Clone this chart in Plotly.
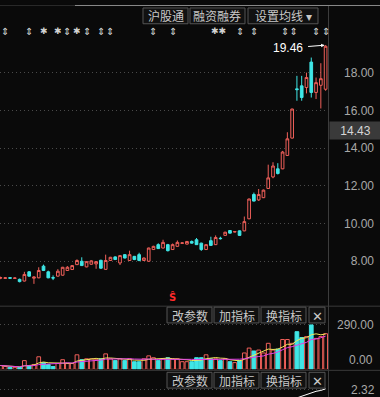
import plotly.graph_objects as go
import pandas as pd

W, H = 380, 397
BG = '#0A0A0A'
RED = '#F0605A'
CYAN = '#3FE6E6'
GRID = '#4A4A4A'
LBL = '#A8A8A8'
BTN_TXT = '#C8C8C8'

# ---------------- data ----------------
opens = [7.10, 7.09, 7.13, 7.09, 7.04, 6.95, 7.44, 7.10, 7.12, 7.74,
         7.44, 7.13, 7.21, 7.26, 7.51, 7.56, 7.82, 8.00, 7.70, 7.84,
         7.86, 8.05, 7.57, 8.04, 8.23, 7.91, 8.35, 8.04, 8.26, 8.35,
         8.04, 8.00, 8.62, 8.88, 8.70, 8.88, 8.62, 8.79, 8.95, 8.91,
         9.05, 9.14, 8.96, 8.62, 9.09, 8.88, 9.22, 9.37, 9.63, 9.55,
         9.61, 9.61, 10.25, 11.54, 11.25, 11.37, 11.86, 12.47, 12.90, 12.90,
         13.61, 14.53, 17.14, 17.30, 17.21, 18.56, 16.95, 17.33, 17.12]
closes = [7.13, 7.12, 7.10, 7.11, 6.92, 7.30, 7.21, 7.16, 7.51, 7.51,
          7.12, 7.11, 7.47, 7.68, 7.68, 7.77, 8.04, 7.77, 7.98, 8.02,
          7.98, 7.63, 8.04, 8.21, 8.09, 8.30, 8.17, 8.35, 8.09, 8.04,
          8.17, 8.70, 8.79, 8.67, 9.00, 8.56, 8.88, 9.00, 8.97, 9.05,
          8.96, 8.88, 8.62, 8.88, 8.84, 9.26, 9.20, 9.54, 9.49, 9.57,
          9.37, 10.10, 11.30, 11.19, 11.54, 11.77, 12.42, 13.05, 12.65, 13.79,
          14.49, 16.07, 17.10, 16.68, 17.74, 16.95, 17.47, 17.68, 19.40]
highs = [7.18, 7.16, 7.16, 7.14, 7.08, 7.44, 7.48, 7.20, 7.68, 7.82,
         7.50, 7.25, 7.58, 7.70, 7.74, 7.80, 8.10, 8.21, 8.00, 8.05,
         8.00, 8.08, 8.35, 8.23, 8.26, 8.32, 8.38, 8.56, 8.28, 8.45,
         8.20, 8.72, 8.82, 8.95, 9.14, 8.92, 8.94, 9.10, 9.00, 9.07,
         9.10, 9.23, 8.98, 8.90, 9.30, 9.37, 9.30, 9.56, 9.65, 9.60,
         9.63, 10.37, 11.32, 11.64, 11.83, 11.80, 13.12, 13.25, 13.20, 13.85,
         14.84, 16.09, 17.83, 17.83, 18.00, 18.80, 17.74, 18.50, 19.46]
lows = [7.05, 7.06, 7.07, 7.06, 6.88, 6.93, 7.19, 6.80, 7.10, 7.48,
        7.10, 7.00, 7.19, 7.24, 7.49, 7.54, 7.80, 7.75, 7.68, 7.82,
        7.60, 7.60, 7.55, 8.02, 8.07, 7.80, 8.15, 8.02, 8.06, 8.00,
        8.02, 7.98, 8.60, 8.65, 8.68, 8.52, 8.60, 8.77, 8.92, 8.89,
        8.94, 8.86, 8.55, 8.60, 8.82, 8.86, 9.15, 9.35, 9.47, 9.53,
        9.35, 9.59, 10.23, 11.17, 11.20, 11.35, 11.84, 12.40, 12.60, 12.88,
        13.59, 14.51, 16.51, 16.51, 16.90, 16.68, 16.60, 16.10, 17.04]
volumes = [25, 19, 13, 13, 13, 57, 25, 32, 82, 44,
           32, 19, 38, 63, 38, 38, 95, 63, 69, 69,
           63, 69, 101, 69, 57, 69, 57, 69, 50, 50,
           69, 88, 76, 57, 69, 76, 69, 69, 50, 50,
           50, 76, 76, 95, 69, 69, 57, 69, 50, 44,
           57, 107, 139, 120, 126, 107, 170, 126, 132, 195,
           195, 170, 246, 208, 214, 290, 202, 214, 233]
indicator_tail = [1.85, 1.95, 2.05, 2.15, 2.22, 2.27, 2.36]
indicator = [None] * (len(closes) - len(indicator_tail)) + indicator_tail

price_ticks = [8, 10, 12, 14, 16, 18]
price_ticktext = ['\u20078.00', '10.00', '12.00', '14.00', '16.00', '18.00']
vol_ticks = [290]
vol_ticktext = ['290.00']
ind_ticks = [2.32]
ind_ticktext = ['2.32']

# event markers: (candle index, glyph); adjacent events are merged into one label
event_idx = [1, 6, 9, 12, 14, 16, 18, 21, 23, 32, 36, 45.5, 50, 53, 60.5, 66, 68]
event_glyph = ['⇕', '⇕', '✱', '✱', '⇕', '✱', '⇕', '⇕', '⇕', '⇕', '⇕',
               '✱✱', '⇕', '⇕', '⇕⇕', '⇕', '⇕']
signal_idx = 36
high_value = 19.46
current_price = 14.43

top_buttons = ['沪股通', '融资融券', '设置均线 ▾']
panel_buttons = ['改参数', '加指标', '换指标', '✕']

# ---------------- geometry helpers ----------------
def px(x):
    return x / W

def py(y):
    return 1 - y / H

idx = list(range(len(closes)))
XR = 328 / W
XRANGE = [-0.1, 68.5]
up = [c >= o for o, c in zip(opens, closes)]

vol = pd.Series(volumes)
ma5 = vol.rolling(5, min_periods=1).mean()
ma10 = vol.rolling(10, min_periods=1).mean()

fig = go.Figure()
fig.add_trace(go.Candlestick(
    x=idx, open=opens, high=highs, low=lows, close=closes,
    increasing=dict(line=dict(color=RED, width=1), fillcolor=BG),
    decreasing=dict(line=dict(color=CYAN, width=1), fillcolor=CYAN),
    xaxis='x', yaxis='y', hoverinfo='skip'))
fig.add_trace(go.Bar(
    x=idx, y=volumes, width=0.78,
    marker=dict(color=[BG if u else CYAN for u in up],
                line=dict(color=[RED if u else CYAN for u in up], width=1)),
    xaxis='x2', yaxis='y2', hoverinfo='skip'))
fig.add_trace(go.Scatter(x=idx, y=ma5, mode='lines', line=dict(color='#F2E85A', width=1),
                         xaxis='x2', yaxis='y2', hoverinfo='skip'))
fig.add_trace(go.Scatter(x=idx, y=ma10, mode='lines', line=dict(color='#E040E8', width=1),
                         xaxis='x2', yaxis='y2', hoverinfo='skip'))
fig.add_trace(go.Scatter(x=idx, y=indicator, mode='lines', line=dict(color='#FFFFFF', width=1),
                         xaxis='x3', yaxis='y3', hoverinfo='skip'))

tickfont = dict(family='Liberation Sans, Arial, sans-serif', size=12, color=LBL)
yax_common = dict(side='right', showgrid=True, gridcolor=GRID, griddash='1px,3px', gridwidth=1,
                  zeroline=False, showline=False, ticks='', tickfont=tickfont, fixedrange=True)

fig.update_layout(
    width=W, height=H, margin=dict(l=0, r=0, t=0, b=0),
    paper_bgcolor=BG, plot_bgcolor=BG, showlegend=False, boxgap=0.2,
    xaxis=dict(domain=[0, XR], range=XRANGE, visible=False, anchor='y',
               rangeslider=dict(visible=False)),
    xaxis2=dict(domain=[0, XR], range=XRANGE, visible=False, anchor='y2'),
    xaxis3=dict(domain=[0, XR], range=XRANGE, visible=False, anchor='y3'),
    yaxis=dict(domain=[py(303), py(30)], range=[5.723, 20.016], anchor='x',
               tickvals=price_ticks, ticktext=price_ticktext, ticklabelstandoff=15, **yax_common),
    yaxis2=dict(domain=[py(369), py(322)], range=[0, 303], anchor='x2',
                tickvals=vol_ticks, ticktext=vol_ticktext, ticklabelstandoff=8, **yax_common),
    yaxis3=dict(domain=[0, py(388)], range=[1.9, 2.4], anchor='x3',
                tickvals=ind_ticks, ticktext=ind_ticktext, ticklabelstandoff=22, **yax_common),
)

shapes = []
annotations = []

# frame lines
shapes.append(dict(type='line', xref='paper', yref='paper', x0=px(328.5), x1=px(328.5), y0=0, y1=1,
                   line=dict(color='#3C3C3C', width=1)))
for yy in (305, 370):
    shapes.append(dict(type='line', xref='paper', yref='paper', x0=0, x1=1, y0=py(yy), y1=py(yy),
                       line=dict(color='#3A3A3A', width=1)))
shapes.append(dict(type='line', xref='paper', yref='paper', x0=0, x1=px(75), y0=py(0.5), y1=py(0.5),
                   line=dict(color='#2A2A2A', width=1)))
shapes.append(dict(type='line', xref='paper', yref='paper', x0=px(75), x1=px(380), y0=py(0.5), y1=py(0.5),
                   line=dict(color='#8A8A8A', width=1)))

btn_font = dict(family='Noto Sans CJK SC', size=12, color=BTN_TXT)

def button(label, x0, x1, y0, y1, size=12):
    shapes.append(dict(type='rect', xref='paper', yref='paper', x0=px(x0), x1=px(x1),
                       y0=py(y1), y1=py(y0), line=dict(color='#555555', width=1),
                       fillcolor='#111111', layer='above'))
    annotations.append(dict(xref='paper', yref='paper', x=px((x0 + x1) / 2), y=py((y0 + y1) / 2),
                            text=label, showarrow=False, xanchor='center', yanchor='middle',
                            font=dict(btn_font, size=size)))

for label, (x0, x1) in zip(top_buttons, [(143, 188), (190, 245), (248, 318)]):
    button(label, x0, x1, 3, 19)
for (r0, r1) in [(306, 322), (372, 388)]:
    for label, (x0, x1) in zip(panel_buttons, [(167, 212), (214, 259), (261, 306), (309, 325)]):
        button(label, x0, x1, r0, r1, size=12 if label != '✕' else 13)

# event markers
for i, g in zip(event_idx, event_glyph):
    annotations.append(dict(xref='x', yref='paper', x=i, y=py(26), text=g, showarrow=False,
                            font=dict(family='DejaVu Sans', size=9 if '✱' in g else 10, color='#D2D2D2'),
                            xanchor='center', yanchor='middle', height=10))

# high label with arrow
annotations.append(dict(xref='x', yref='y', x=idx[-1], y=high_value, text=f'{high_value:.2f}',
                        showarrow=True, ax=-38, ay=3, arrowcolor='#FFFFFF', arrowwidth=1,
                        arrowhead=2, arrowsize=0.7, standoff=1, startstandoff=4,
                        font=dict(family='Liberation Sans, Arial', size=12, color='#FFFFFF')))

# signal marker
annotations.append(dict(xref='x', yref='paper', x=signal_idx, y=py(296), text='<b>Ŝ</b>',
                        showarrow=False, font=dict(family='DejaVu Sans', size=10, color='#FF2A2A'),
                        xanchor='center', yanchor='middle'))

# current price tag
annotations.append(dict(xref='paper', yref='y', x=px(329), y=current_price, text=f'{current_price:.2f}',
                        showarrow=False, xanchor='left', yanchor='bottom', bgcolor='#3A3A3A',
                        width=51, height=17, borderpad=0, align='center',
                        font=dict(family='Liberation Sans, Arial', size=12, color='#D6D6D6')))

# volume zero label
annotations.append(dict(xref='paper', yref='y2', x=px(375), y=0, text='0.00', showarrow=False,
                        xanchor='right', yanchor='bottom', font=tickfont))

fig.update_layout(shapes=shapes, annotations=annotations)
fig.write_html('out.html', config={'displayModeBar': False},
               post_script="document.body.style.margin='0';document.body.style.overflow='hidden';"
                           "document.body.style.background='#0A0A0A';")
